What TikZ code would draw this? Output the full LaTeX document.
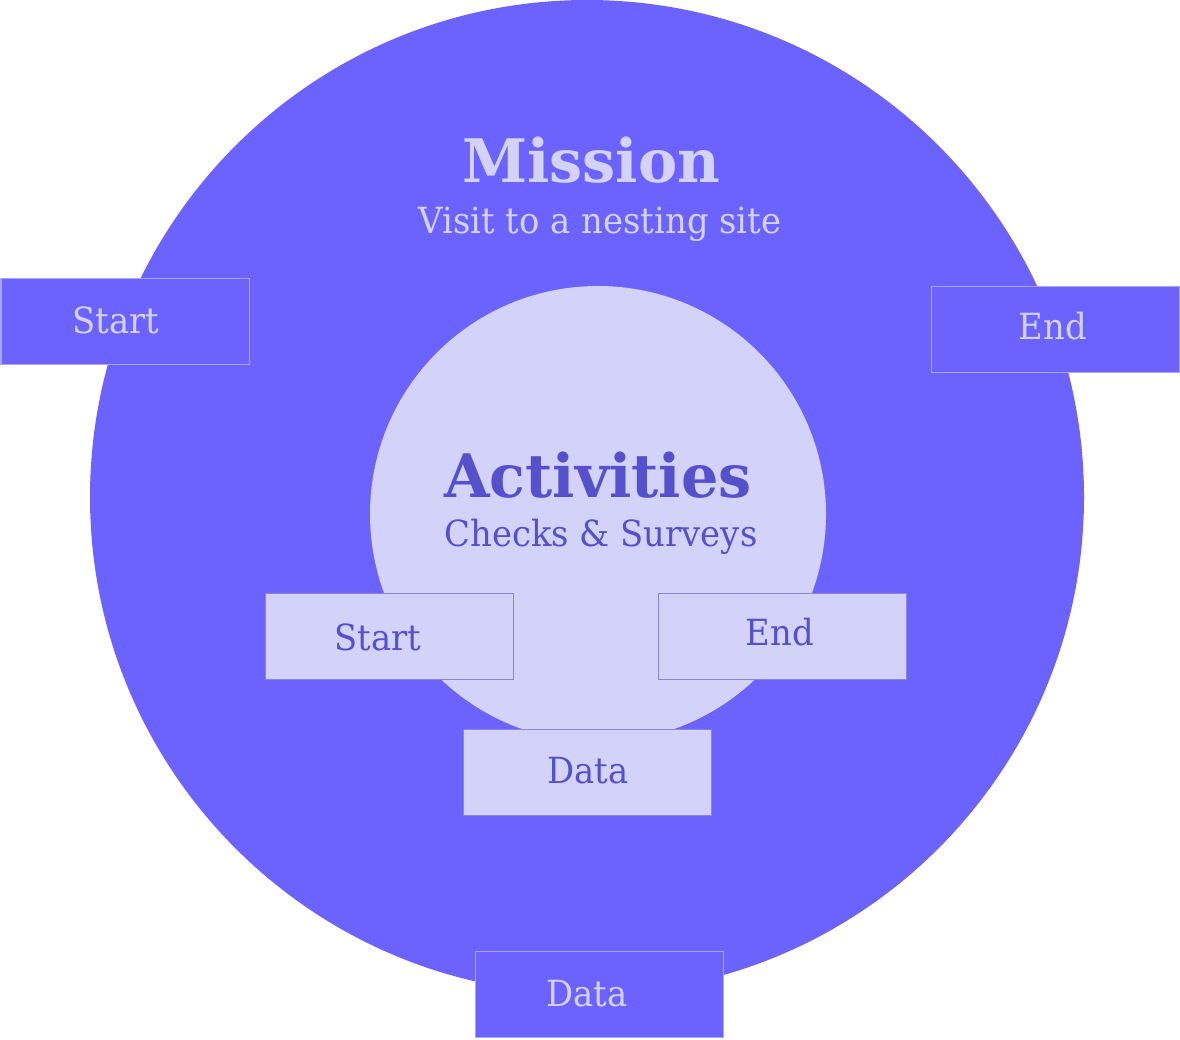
\documentclass[tikz,border=0pt]{standalone}
\usepackage{fontspec}
\newfontfamily\slabreg[FakeStretch=0.94]{DejaVu Serif}
\newfontfamily\slabbold[FakeStretch=0.98]{DejaVu Serif Bold}
\definecolor{mission}{HTML}{6C63FF}
\definecolor{lightfill}{HTML}{D3D2F9}
\definecolor{darktext}{HTML}{5650CC}
\definecolor{outerborder}{HTML}{A9A5FF}
\definecolor{innerborder}{HTML}{8985DA}
\begin{document}
\begin{tikzpicture}[x=1pt,y=-1pt,
  outerbox/.style={draw=outerborder,line width=1.3pt,fill=mission,minimum width=248pt,minimum height=86pt,inner sep=0pt,anchor=north west},
  innerbox/.style={draw=innerborder,line width=1.3pt,fill=lightfill,minimum width=248pt,minimum height=86pt,inner sep=0pt,anchor=north west},
  lbl/.style={font=\slabreg\fontsize{36}{40}\selectfont,inner sep=0pt,anchor=base},
  outerlbl/.style={lbl,text=lightfill},
  innerlbl/.style={lbl,text=darktext},
  titlelbl/.style={inner sep=0pt,anchor=base,font=\slabbold\fontsize{60}{64}\selectfont}]
\useasboundingbox (0,0) rectangle (1180,1039);
\fill[white] (0,0) rectangle (1180,1039);
% big circle
\node[circle,fill=mission,minimum size=994pt,inner sep=0pt] (outer) at (587,497) {};
% outer boxes
\node[outerbox] (ostart) at (0.5,278) {};
\node[outerbox] (oend) at (930.5,286) {};
\node[outerbox] (odata) at (474.5,951) {};
\node[outerlbl] (ostartt) at (116,333) {Start};
\node[outerlbl] (oendt) at (1053,339) {End};
\node[outerlbl] (odatat) at (587,1006) {Data};
% titles
\node[titlelbl,text=lightfill] (mtitle) at (591,182) {Mission};
\node[lbl,text=lightfill] (msub) at (600,233) {Visit to a nesting site};
% inner circle
\node[circle,fill=lightfill,minimum size=456pt,inner sep=0pt] (inner) at (598,514) {};
\node[titlelbl,text=darktext] (atitle) at (598,497) {Activities};
\node[lbl,text=darktext] (asub) at (601,546) {Checks \& Surveys};
% inner boxes
\node[innerbox] (istart) at (264.5,593) {};
\node[innerbox] (iend) at (657.5,593) {};
\node[innerbox] (idata) at (463,729) {};
\node[innerlbl] (istartt) at (378,650) {Start};
\node[innerlbl] (iendt) at (780,645) {End};
\node[innerlbl] (idatat) at (588,783) {Data};
\end{tikzpicture}
\end{document}
